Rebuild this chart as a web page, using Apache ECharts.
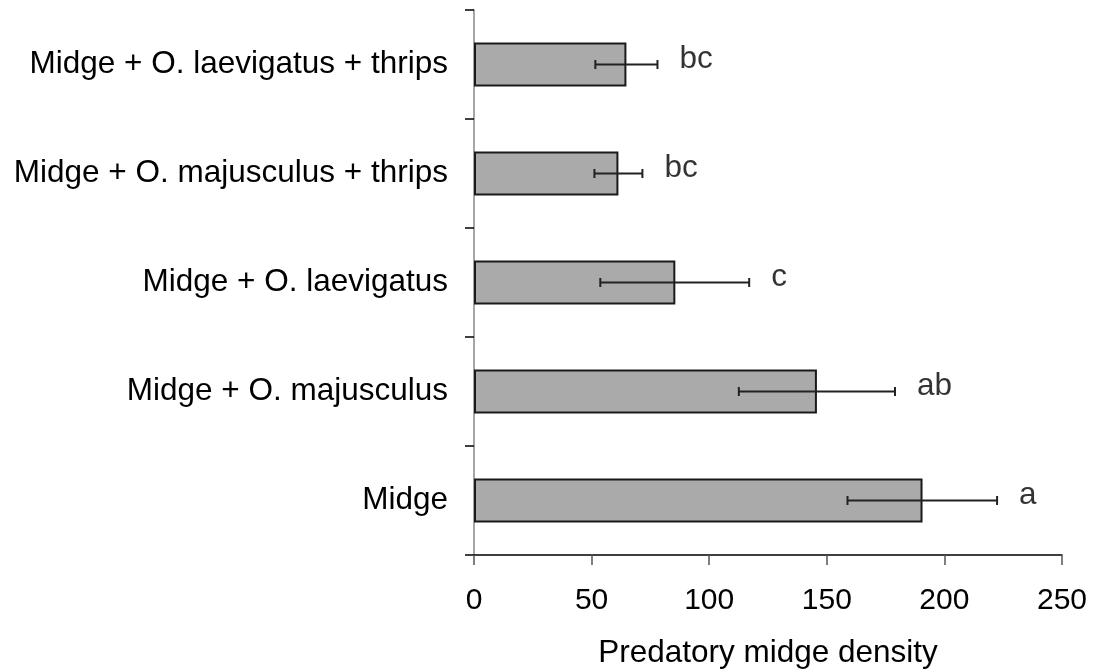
<!DOCTYPE html>
<html>
<head>
<meta charset="utf-8">
<script src="https://cdn.jsdelivr.net/npm/echarts@6/dist/echarts.min.js"></script>
<style>
html,body{margin:0;padding:0;background:#fff;}
#chart{width:1095px;height:672px;}
</style>
</head>
<body>
<div id="chart"></div>
<script>
const categories = ['Midge', 'Midge + O. majusculus', 'Midge + O. laevigatus', 'Midge + O. majusculus + thrips', 'Midge + O. laevigatus + thrips'];
const means = [190.7, 145.8, 85.6, 61.4, 64.8];
const errLow = [158.8, 112.6, 53.7, 51.2, 51.6];
const errHigh = [222.4, 179.0, 117.0, 71.6, 78.0];
const letters = ['a', 'ab', 'c', 'bc', 'bc'];
const xTicks = [0, 50, 100, 150, 200, 250];

const FONT = 'Liberation Sans, Arial, sans-serif';
const chart = echarts.init(document.getElementById('chart'), null, {renderer: 'canvas'});

const errData = categories.map((c, i) => [i, errLow[i], errHigh[i]]);
const letterData = categories.map((c, i) => ({value: [errHigh[i], i], label: {formatter: letters[i]}}));

chart.setOption({
  animation: false,
  grid: {left: 474, right: 33, top: 10, bottom: 117, containLabel: false, outerBoundsMode: 'none'},
  xAxis: {
    type: 'value', min: xTicks[0], max: xTicks[xTicks.length - 1], interval: 50,
    name: 'Predatory midge density', nameLocation: 'middle', nameGap: 82,
    nameTextStyle: {fontFamily: FONT, fontSize: 31.5, color: '#000'},
    axisLine: {show: true, lineStyle: {color: '#000', width: 1.5}},
    axisTick: {show: true, inside: false, length: 10, lineStyle: {color: '#555', width: 1.5}},
    axisLabel: {fontFamily: FONT, fontSize: 30, color: '#000', margin: 31},
    splitLine: {show: false}
  },
  yAxis: {
    type: 'category', data: categories,
    axisLine: {show: true, lineStyle: {color: '#888', width: 1.5}},
    axisTick: {show: true, inside: false, length: 9, lineStyle: {color: '#000', width: 1.5}},
    axisLabel: {fontFamily: FONT, fontSize: 31.5, color: '#000', margin: 26},
    splitLine: {show: false}
  },
  series: [
    {
      type: 'bar', data: means, barWidth: 44,
      itemStyle: {color: '#aaaaaa', borderColor: '#1a1a1a', borderWidth: 2}
    },
    {
      type: 'custom', data: errData, z: 10,
      renderItem: function (params, api) {
        const idx = api.value(0);
        const lo = api.coord([api.value(1), idx]);
        const hi = api.coord([api.value(2), idx]);
        const y = lo[1];
        const h = 4.5;
        const style = {stroke: '#222', lineWidth: 2};
        return {type: 'group', children: [
          {type: 'line', shape: {x1: lo[0], y1: y, x2: hi[0], y2: y}, style: style},
          {type: 'line', shape: {x1: lo[0], y1: y - h, x2: lo[0], y2: y + h}, style: style},
          {type: 'line', shape: {x1: hi[0], y1: y - h, x2: hi[0], y2: y + h}, style: style}
        ]};
      },
      encode: {x: [1, 2], y: 0}
    },
    {
      type: 'scatter', data: letterData, symbolSize: 0, silent: true,
      label: {show: true, position: 'right', distance: 22, offset: [0, -5], fontFamily: FONT, fontSize: 31.5, color: '#000'}
    }
  ]
});
</script>
</body>
</html>
